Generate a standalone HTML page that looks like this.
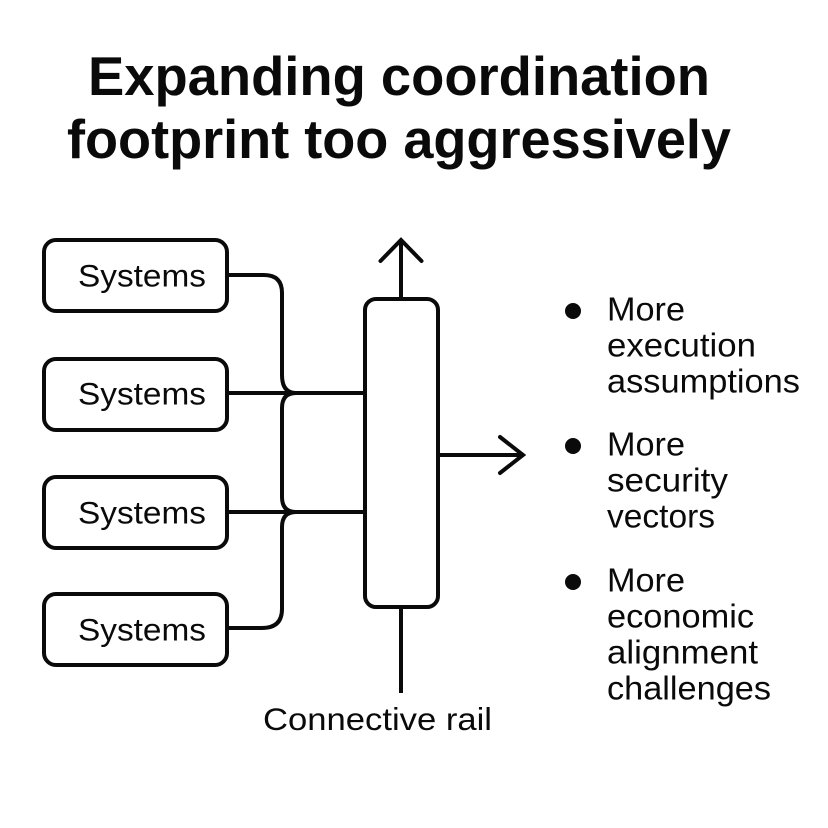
<!DOCTYPE html>
<html>
<head>
<meta charset="utf-8">
<style>
html,body{margin:0;padding:0;background:#fff;width:828px;height:828px;overflow:hidden}
svg{display:block}
text{font-family:"Liberation Sans",sans-serif;fill:#0a0a0a}
</style>
</head>
<body>
<svg width="828" height="828" viewBox="0 0 828 828" xmlns="http://www.w3.org/2000/svg">
<rect width="828" height="828" fill="#fff"/>
<text x="399" y="95" font-size="55" font-weight="700" text-anchor="middle" textLength="622" lengthAdjust="spacingAndGlyphs">Expanding coordination</text>
<text x="399" y="158" font-size="55" font-weight="700" text-anchor="middle" textLength="664" lengthAdjust="spacingAndGlyphs">footprint too aggressively</text>
<g fill="none" stroke="#0a0a0a" stroke-width="4">
<rect x="44" y="240" width="183" height="71" rx="12"/>
<rect x="44" y="359" width="183" height="71" rx="12"/>
<rect x="44" y="477" width="183" height="71" rx="12"/>
<rect x="44" y="594" width="183" height="71" rx="12"/>
<rect x="365" y="299" width="73" height="308" rx="11"/>
<path d="M228 275H264Q282 275 282 293V375Q282 393 296 393"/>
<path d="M228 393H365"/>
<path d="M296 393Q282 393 282 408V497Q282 512 296 512"/>
<path d="M228 512H365"/>
<path d="M296 512Q282 512 282 527V609Q282 628 262 628H228"/>
<path d="M401 299V240"/>
<path d="M380.500 261L401 240L421.500 261" stroke-linecap="round"/>
<path d="M438 455H522"/>
<path d="M500 437L523 455L500 473" stroke-linecap="round"/>
<path d="M401 607V693"/>
</g>
<g font-size="31.500">
<text x="78" y="286.500" textLength="128" lengthAdjust="spacingAndGlyphs">Systems</text>
<text x="78" y="404.500" textLength="128" lengthAdjust="spacingAndGlyphs">Systems</text>
<text x="78" y="523.500" textLength="128" lengthAdjust="spacingAndGlyphs">Systems</text>
<text x="78" y="640.500" textLength="128" lengthAdjust="spacingAndGlyphs">Systems</text>
<text x="263" y="730" textLength="229" lengthAdjust="spacingAndGlyphs">Connective rail</text>
</g>
<circle cx="573" cy="311" r="8" fill="#0a0a0a"/>
<circle cx="573" cy="446" r="8" fill="#0a0a0a"/>
<circle cx="573" cy="582" r="8" fill="#0a0a0a"/>
<g font-size="33">
<text x="607" y="320.500" textLength="78" lengthAdjust="spacingAndGlyphs">More</text>
<text x="607" y="356.500" textLength="149" lengthAdjust="spacingAndGlyphs">execution</text>
<text x="607" y="392.500" textLength="193" lengthAdjust="spacingAndGlyphs">assumptions</text>
<text x="607" y="455.500" textLength="78" lengthAdjust="spacingAndGlyphs">More</text>
<text x="607" y="491.500" textLength="121" lengthAdjust="spacingAndGlyphs">security</text>
<text x="607" y="527.500" textLength="108" lengthAdjust="spacingAndGlyphs">vectors</text>
<text x="607" y="591.500" textLength="78" lengthAdjust="spacingAndGlyphs">More</text>
<text x="607" y="627.500" textLength="147" lengthAdjust="spacingAndGlyphs">economic</text>
<text x="607" y="663.500" textLength="151" lengthAdjust="spacingAndGlyphs">alignment</text>
<text x="607" y="699.500" textLength="164" lengthAdjust="spacingAndGlyphs">challenges</text>
</g>
</svg>
</body>
</html>
